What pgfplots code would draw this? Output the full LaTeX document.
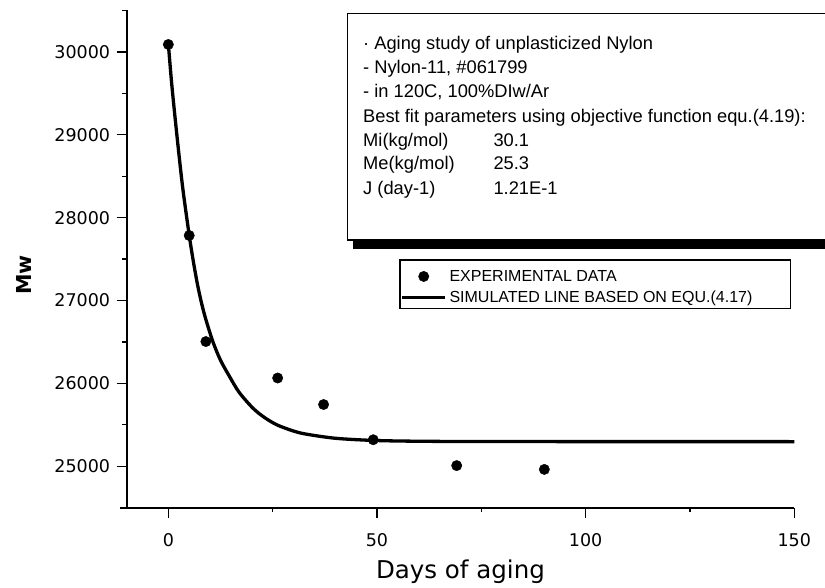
\documentclass[border=0pt]{standalone}
\usepackage{fontspec}
\setmainfont{Liberation Sans}
\newfontfamily\dejavu{DejaVu Sans}
\usepackage{pgfplots}
\pgfplotsset{compat=1.18}
\pgfplotsset{
  dotlegend/.style={legend image code/.code={%
    \path[draw=none] (0pt,0pt) -- (43.3pt,0pt);
    \draw[##1] plot[only marks] coordinates {(21.65pt,0pt)};}},
  linelegend/.style={legend image code/.code={\draw[##1] (0pt,0pt) -- (43.3pt,0pt);}},
}
\begin{document}
\begin{tikzpicture}[x=1pt,y=1pt]
\begin{axis}[
  at={(126.6pt,80.3pt)}, anchor=south west,
  scale only axis, width=667.7pt, height=497.2pt,
  xmin=-10, xmax=150, ymin=24500, ymax=30500,
  axis x line*=bottom, axis y line*=left,
  axis line style={line width=2pt, -},
  tick align=outside,
  xtick={0,50,100,150}, minor xtick={25,75,125},
  ytick={25000,26000,27000,28000,29000,30000},
  minor ytick={24500,25500,26500,27500,28500,29500,30500},
  major tick length=10pt, minor tick length=4.5pt,
  every tick/.style={black, line width=1.3pt},
  tick label style={font=\dejavu\fontsize{17.5}{19}\selectfont},
  xticklabel style={yshift=-12.5pt},
  yticklabel style={xshift=-3pt},
  /pgf/number format/assume math mode=true,
  /pgf/number format/1000 sep={},
  scaled x ticks=false, scaled y ticks=false,
  xlabel={Days of aging},
  xlabel style={at={(rel axis cs:0.5,-0.1414)}, anchor=base, inner sep=0pt,
    font=\dejavu\fontsize{24.5}{26}\selectfont},
  ylabel={Mw},
  ylabel style={at={(rel axis cs:-0.1537,0.468)}, anchor=center, inner sep=0pt,
    font=\dejavu\bfseries\fontsize{20.6}{22}\selectfont},
  legend cell align=left,
  legend style={at={(rel axis cs:0.4098,0.4841)}, anchor=north west,
    draw=none, fill=none, inner xsep=0pt, inner ysep=1pt,
    font=\fontsize{16}{17}\selectfont, row sep=4.5pt,
    nodes={inner xsep=2.5pt, inner ysep=2pt}},
]
\addplot[only marks, mark=*, mark size=5.2pt, black, dotlegend]
  coordinates {(0,30090) (5,27785) (9,26505) (26.2,26065) (37.2,25745) (49.1,25320) (69.1,25008) (90.1,24962)};
\addlegendentry{EXPERIMENTAL DATA}
\addplot[black, line width=3.3pt, smooth, tension=0.5, linelegend]
  coordinates {(0,30100) (0.8,29620) (2,29020) (3.4,28380) (5,27790) (6,27470) (7,27190)
    (8,26960) (9,26770) (10.7,26500) (12.5,26280) (14.7,26080) (17,25890) (20.3,25700)
    (23,25590) (26,25500) (30,25425) (33,25388) (40,25338) (49,25312) (60,25302)
    (80,25298) (150,25297)};
\addlegendentry{SIMULATED LINE BASED ON EQU.(4.17)}
\end{axis}
% text box with drop shadow
\fill[black] (353,339) rectangle (845,348);
\draw[line width=1.3pt, fill=white] (347.3,574.7) rectangle (840,348);
\begin{scope}[every node/.style={anchor=base west, inner sep=0pt, font=\fontsize{18.3}{20}\selectfont}]
\node at (363,538) {· Aging study of unplasticized Nylon};
\node at (363,514) {- Nylon-11, \#061799};
\node at (363,490.7) {- in 120C, 100\%DIw/Ar};
\node at (363,465.7) {Best fit parameters using objective function equ.(4.19):};
\node at (363,441.3) {Mi(kg/mol)};
\node at (493.3,441.3) {30.1};
\node at (363,418) {Me(kg/mol)};
\node at (493.3,418) {25.3};
\node at (363,393.7) {J (day-1)};
\node at (493.3,393.7) {1.21E-1};
\end{scope}
% legend frame
\draw[line width=1.3pt] (400,328) rectangle (790.7,279.7);
\draw[line width=2pt] (120,80.3) -- (127,80.3);
\pgfresetboundingbox
\useasboundingbox (0,0) rectangle (825,588);
\end{tikzpicture}
\end{document}
